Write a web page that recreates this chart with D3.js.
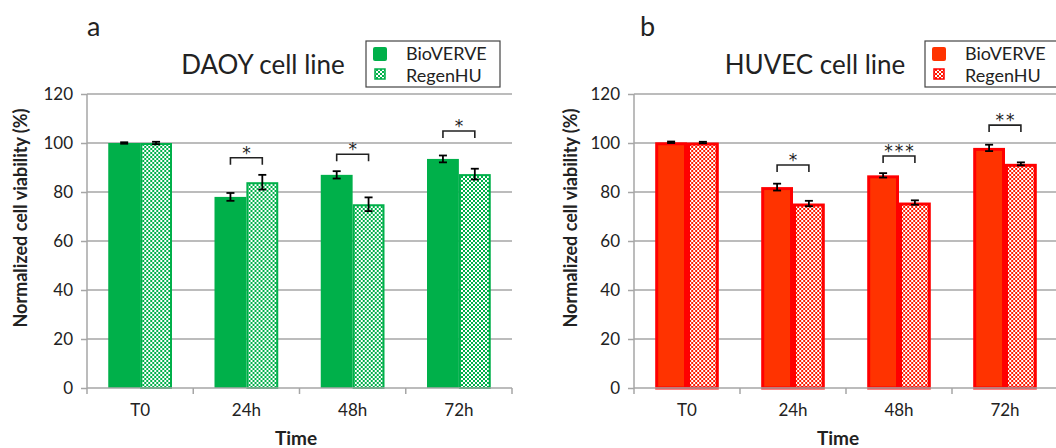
<!DOCTYPE html>
<html>
<head>
<meta charset="utf-8">
<script src="https://cdn.jsdelivr.net/npm/d3@7"></script>
<style>
  body { margin: 0; background: #fff; }
  text { font-family: Lato, "Open Sans", sans-serif; fill: #222; }
</style>
</head>
<body>
<div id="chart"></div>
<script>
// data
const categories = ["T0", "24h", "48h", "72h"];
const seriesNames = ["BioVERVE", "RegenHU"];
const yTicks = [0, 20, 40, 60, 80, 100, 120];

const daoyBio = [100, 78, 87, 93.5];
const daoyBioErr = [0.3, 1.6, 1.5, 1.4];
const daoyRegen = [100, 84, 75, 87.3];
const daoyRegenErr = [0.5, 3, 2.8, 2.2];
const daoyBracket = [null, 94, 95.4, 104.9];
const daoyStars = ["", "*", "*", "*"];

const huvecBio = [100.3, 82, 86.8, 98];
const huvecBioErr = [0.3, 1.4, 0.9, 1.3];
const huvecRegen = [100.2, 75.3, 75.7, 91.5];
const huvecRegenErr = [0.3, 1.1, 0.9, 0.6];
const huvecBracket = [null, 91, 94.7, 107.3];
const huvecStars = ["", "*", "***", "**"];

const W = 1056, H = 448;
const svg = d3.select("#chart").append("svg")
    .attr("width", W)
    .attr("height", H);

svg.append("rect").attr("width", W).attr("height", H).attr("fill", "#fff");

const defs = svg.append("defs");

// checker pattern
function makePattern(id, color) {
    let p = defs.append("pattern")
        .attr("id", id)
        .attr("patternUnits", "userSpaceOnUse")
        .attr("width", 4).attr("height", 4);
    p.append("rect").attr("width", 4).attr("height", 4).attr("fill", color);
    p.append("rect").attr("x", 0).attr("y", 0).attr("width", 2).attr("height", 2).attr("fill", "#fff");
    p.append("rect").attr("x", 2).attr("y", 2).attr("width", 2).attr("height", 2).attr("fill", "#fff");
}
makePattern("chkGreen", "#00b04a");
makePattern("chkRed", "#ff1a00");

const panels = [
    {
        letter: "a", title: "DAOY cell line", titleX: 263, letterX: 87,
        left: 87, right: 512, yLabelX: 21, timeX: 296,
        bio: daoyBio, bioErr: daoyBioErr, regen: daoyRegen, regenErr: daoyRegenErr,
        bracket: daoyBracket, stars: daoyStars,
        solidFill: "#00b04a", solidStroke: "#00b04a", solidWidth: 0,
        pattern: "url(#chkGreen)", patStroke: "#00b04a", patWidth: 2,
        legendX: 366
    },
    {
        letter: "b", title: "HUVEC cell line", titleX: 815, letterX: 640,
        left: 634, right: 1058, yLabelX: 571, timeX: 838,
        bio: huvecBio, bioErr: huvecBioErr, regen: huvecRegen, regenErr: huvecRegenErr,
        bracket: huvecBracket, stars: huvecStars,
        solidFill: "#ff3300", solidStroke: "#ff0000", solidWidth: 3,
        pattern: "url(#chkRed)", patStroke: "#ff0000", patWidth: 3,
        legendX: 925
    }
];

const y = d3.scaleLinear().domain([0, 120]).range([388, 94]);
const gridColor = "#a6a6a6";

panels.forEach(function (pn) {
    let g = svg.append("g");

    let x = d3.scaleBand()
        .domain(categories)
        .range([pn.left, pn.right])
        .paddingInner(0.4)
        .paddingOuter(0.2);
    let xs = d3.scaleBand().domain(seriesNames).range([0, x.bandwidth()]);

    // gridlines
    g.selectAll(".grid")
        .data(yTicks.filter(t => t > 0))
        .enter().append("line")
        .attr("x1", pn.left).attr("x2", pn.right)
        .attr("y1", d => y(d)).attr("y2", d => y(d))
        .attr("stroke", gridColor).attr("stroke-width", 1.5);

    // y axis
    let yAxis = g.append("g")
        .attr("transform", `translate(${pn.left},0)`)
        .call(d3.axisLeft(y).tickValues(yTicks).tickSize(6).tickPadding(8));
    yAxis.selectAll("path, line").attr("stroke", gridColor).attr("stroke-width", 1.5);
    yAxis.select(".domain").attr("d", `M0,${y(120)}V${y(0)}`);
    yAxis.selectAll("text").style("font-size", "17px").style("font-family", "Lato").attr("fill", "#222");

    // bars
    let rows = categories.map((c, i) => ({
        cat: c, i: i,
        vals: [
            {s: seriesNames[0], v: pn.bio[i], e: pn.bioErr[i]},
            {s: seriesNames[1], v: pn.regen[i], e: pn.regenErr[i]}
        ]
    }));

    let grp = g.selectAll(".grp")
        .data(rows)
        .enter().append("g")
        .attr("transform", d => `translate(${x(d.cat)},0)`);

    grp.selectAll("rect")
        .data(d => d.vals)
        .enter().append("rect")
        .attr("x", d => xs(d.s) + (d.s === "BioVERVE" ? pn.solidWidth : pn.patWidth) / 2)
        .attr("width", d => xs.bandwidth() - (d.s === "BioVERVE" ? pn.solidWidth : pn.patWidth))
        .attr("y", d => y(d.v) + (d.s === "BioVERVE" ? pn.solidWidth : pn.patWidth) / 2)
        .attr("height", d => y(0) - y(d.v) - (d.s === "BioVERVE" ? pn.solidWidth : pn.patWidth) / 2)
        .attr("fill", d => d.s === "BioVERVE" ? pn.solidFill : pn.pattern)
        .attr("stroke", d => d.s === "BioVERVE" ? pn.solidStroke : pn.patStroke)
        .attr("stroke-width", d => d.s === "BioVERVE" ? pn.solidWidth : pn.patWidth);

    // error bars
    let eb = grp.selectAll(".err")
        .data(d => d.vals)
        .enter().append("g")
        .attr("transform", d => `translate(${xs(d.s) + xs.bandwidth() / 2},0)`);
    eb.append("line")
        .attr("y1", d => y(d.v + d.e)).attr("y2", d => y(d.v - d.e))
        .attr("stroke", "#000").attr("stroke-width", 1.8);
    eb.append("line")
        .attr("x1", -4).attr("x2", 4)
        .attr("y1", d => y(d.v + d.e)).attr("y2", d => y(d.v + d.e))
        .attr("stroke", "#000").attr("stroke-width", 1.8);
    eb.append("line")
        .attr("x1", -4).attr("x2", 4)
        .attr("y1", d => y(d.v - d.e)).attr("y2", d => y(d.v - d.e))
        .attr("stroke", "#000").attr("stroke-width", 1.8);

    // significance brackets
    let br = grp.filter(d => pn.bracket[d.i] !== null);
    let c0 = xs(seriesNames[0]) + xs.bandwidth() / 2;
    let c1 = xs(seriesNames[1]) + xs.bandwidth() / 2;
    br.append("path")
        .attr("d", d => {
            let by = y(pn.bracket[d.i]);
            return `M${c0},${by + 7}V${by}H${c1}V${by + 7}`;
        })
        .attr("fill", "none").attr("stroke", "#222").attr("stroke-width", 1.6);
    br.append("text")
        .attr("x", (c0 + c1) / 2 + 1)
        .attr("y", d => y(pn.bracket[d.i]) + 1)
        .attr("text-anchor", "middle")
        .style("font-family", "'DejaVu Sans', sans-serif")
        .style("font-size", "17px")
        .style("letter-spacing", "2px")
        .text(d => pn.stars[d.i]);

    // x axis
    g.append("line")
        .attr("x1", pn.left).attr("x2", pn.right)
        .attr("y1", y(0)).attr("y2", y(0))
        .attr("stroke", gridColor).attr("stroke-width", 1.5);
    let bounds = d3.range(categories.length + 1).map(i => pn.left + i * x.step());
    g.selectAll(".xt")
        .data(bounds)
        .enter().append("line")
        .attr("x1", d => d).attr("x2", d => d)
        .attr("y1", y(0)).attr("y2", y(0) + 6)
        .attr("stroke", gridColor).attr("stroke-width", 1.5);
    g.selectAll(".xl")
        .data(categories)
        .enter().append("text")
        .attr("x", d => x(d) + x.bandwidth() / 2)
        .attr("y", 416)
        .attr("text-anchor", "middle")
        .style("font-size", "17px")
        .text(d => d);

    // axis titles
    g.append("text")
        .attr("x", pn.timeX).attr("y", 445)
        .attr("text-anchor", "middle")
        .style("font-size", "19px").style("font-weight", "bold")
        .attr("fill", "#111")
        .text("Time");
    g.append("text")
        .attr("transform", `translate(${pn.yLabelX},218) rotate(-90)`)
        .attr("text-anchor", "middle")
        .attr("dy", "0.35em")
        .style("font-size", "18px").style("font-weight", "bold")
        .attr("fill", "#111")
        .text("Normalized cell viability (%)");

    // title + panel letter
    g.append("text")
        .attr("x", pn.titleX).attr("y", 74)
        .attr("text-anchor", "middle")
        .style("font-size", "26px")
        .text(pn.title);
    g.append("text")
        .attr("x", pn.letterX).attr("y", 36)
        .style("font-size", "27px")
        .text(pn.letter);

    // legend
    let lg = g.append("g").attr("transform", `translate(${pn.legendX},41)`);
    lg.append("rect")
        .attr("width", 134).attr("height", 46)
        .attr("fill", "#fff").attr("stroke", "#444").attr("stroke-width", 1.2);
    lg.append("rect")
        .attr("x", 7).attr("y", 6).attr("width", 14).attr("height", 14).attr("rx", 2)
        .attr("fill", pn.solidFill);
    lg.append("rect")
        .attr("x", 9).attr("y", 28).attr("width", 10).attr("height", 10)
        .attr("fill", pn.pattern).attr("stroke", pn.patStroke).attr("stroke-width", 1.5);
    lg.selectAll(".lt")
        .data(seriesNames)
        .enter().append("text")
        .attr("x", 40)
        .attr("y", (d, i) => 19 + i * 22)
        .style("font-size", "18px")
        .text(d => d);
});
</script>
</body>
</html>
